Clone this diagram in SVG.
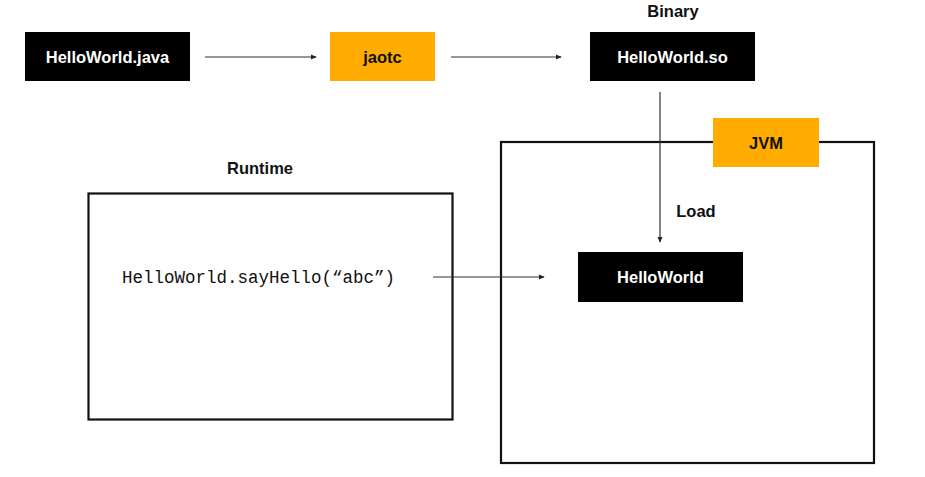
<svg xmlns="http://www.w3.org/2000/svg" width="925" height="477" viewBox="0 0 925 477">
<defs>
<style>
.blk{fill:#000;}
.org{fill:#FFAB00;}
.frame{fill:none;stroke:#111;stroke-width:2.2;}
.lbl{font-family:"Liberation Sans",Arial,sans-serif;font-weight:bold;font-size:16.5px;text-anchor:middle;dominant-baseline:central;}
.w{fill:#fff;}
.k{fill:#111;}
.code{font-family:"Liberation Mono","DejaVu Sans Mono",monospace;font-size:17.5px;fill:#111;}
.conn{stroke:#333;stroke-width:1.2;fill:none;marker-end:url(#ah);}
</style>
<marker id="ah" viewBox="0 0 8 8" refX="7" refY="4" markerWidth="6" markerHeight="6" markerUnits="userSpaceOnUse" orient="auto">
<path d="M0,0.5 L8,4 L0,7.5 Z" fill="#222"/>
</marker>
</defs>
<rect width="925" height="477" fill="#fff"/>

<g id="jvm-frame">
<rect class="frame" x="501" y="142" width="373" height="321"/>
</g>
<g id="runtime">
<rect class="frame" x="88.5" y="193.5" width="364" height="226"/>
<text class="lbl k" x="260" y="168">Runtime</text>
<text class="code" x="122" y="283">HelloWorld.sayHello(“abc”)</text>
</g>

<g id="connectors">
<line class="conn" x1="205" y1="57" x2="316" y2="57"/>
<line class="conn" x1="451" y1="57" x2="561" y2="57"/>
<line class="conn" x1="660" y1="92" x2="660" y2="242"/>
<line class="conn" x1="433" y1="277" x2="544" y2="277"/>
<text class="lbl k" x="696" y="211">Load</text>
</g>

<g id="helloworld-java">
<rect class="blk" x="25" y="32" width="165" height="49"/>
<text class="lbl w" x="107.5" y="57">HelloWorld.java</text>
</g>
<g id="jaotc">
<rect class="org" x="330" y="32" width="105" height="49"/>
<text class="lbl k" x="382.5" y="57">jaotc</text>
</g>
<g id="helloworld-so">
<text class="lbl k" x="673" y="11">Binary</text>
<rect class="blk" x="590" y="32" width="165" height="49"/>
<text class="lbl w" x="672.5" y="57">HelloWorld.so</text>
</g>
<g id="jvm">
<rect class="org" x="713" y="118" width="106" height="49"/>
<text class="lbl k" x="766" y="143">JVM</text>
</g>
<g id="helloworld">
<rect class="blk" x="578" y="252" width="165" height="50"/>
<text class="lbl w" x="660.5" y="277">HelloWorld</text>
</g>
</svg>
